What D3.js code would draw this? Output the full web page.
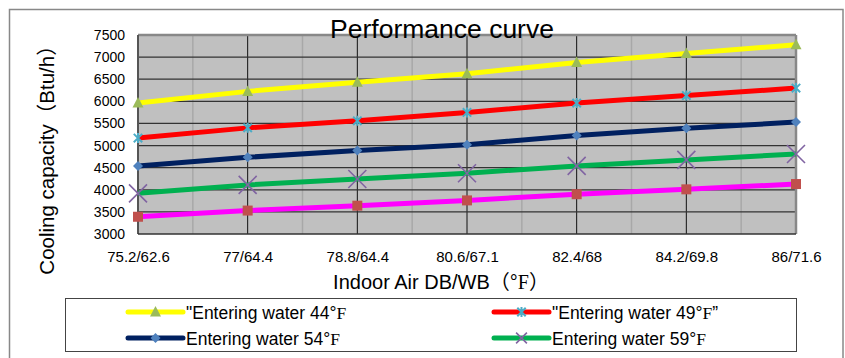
<!DOCTYPE html>
<html>
<head>
<meta charset="utf-8">
<script src="https://cdn.jsdelivr.net/npm/d3@7"></script>
<style>
  html, body { margin: 0; padding: 0; background: #fff; }
  svg { display: block; }
  text { font-family: "Liberation Sans", Arial, sans-serif; fill: #000; }
</style>
</head>
<body>
<svg id="chart" width="845" height="358"></svg>
<script>
// Indoor air conditions (dry bulb / wet bulb, °F)
const categories = ["75.2/62.6", "77/64.4", "78.8/64.4", "80.6/67.1", "82.4/68", "84.2/69.8", "86/71.6"];

// Cooling capacity (Btu/h) for each entering water temperature
const water44 = [5960, 6225, 6430, 6625, 6880, 7080, 7280];
const water49 = [5170, 5400, 5560, 5750, 5960, 6130, 6300];
const water54 = [4540, 4735, 4890, 5020, 5230, 5390, 5530];
const water59 = [3920, 4110, 4245, 4375, 4540, 4675, 4810];
const water64 = [3390, 3530, 3640, 3760, 3900, 4010, 4130];

const yTicks = [3000, 3500, 4000, 4500, 5000, 5500, 6000, 6500, 7000, 7500];

const seriesNames = ["\"Entering water 44", "\"Entering water 49", "Entering water 54", "Entering water 59", "Entering water 64"];
const seriesSuffix = ["", "\u201D", "", "", ""];

const series = [
  { name: seriesNames[0], suffix: seriesSuffix[0], values: water44, line: "#FFFF00", marker: "triangle", mColor: "#9BBB59", legend: true },
  { name: seriesNames[1], suffix: seriesSuffix[1], values: water49, line: "#FF0000", marker: "star",     mColor: "#4BACC6", legend: true },
  { name: seriesNames[2], suffix: seriesSuffix[2], values: water54, line: "#002060", marker: "diamond",  mColor: "#4F81BD", legend: true },
  { name: seriesNames[3], suffix: seriesSuffix[3], values: water59, line: "#00B050", marker: "x",        mColor: "#8064A2", legend: true },
  { name: seriesNames[4], suffix: seriesSuffix[4], values: water64, line: "#FF00FF", marker: "square",   mColor: "#C0504D", legend: false }
];

const svg = d3.select("#chart");

// outer chart frame
svg.append("rect")
  .attr("x", 9.5).attr("y", 9.5).attr("width", 833.5).attr("height", 360)
  .attr("fill", "#fff").attr("stroke", "#888").attr("stroke-width", 1.5);

const plot = { left: 138, right: 796, top: 35, bottom: 234 };

const x = d3.scalePoint().domain(categories).range([plot.left, plot.right]);
const y = d3.scaleLinear().domain([3000, 7500]).range([plot.bottom, plot.top]);

// plot background
svg.append("rect")
  .attr("x", plot.left).attr("y", plot.top)
  .attr("width", plot.right - plot.left).attr("height", plot.bottom - plot.top)
  .attr("fill", "#C0C0C0");

const step = x.step();

// minor vertical gridlines halfway between categories
svg.append("g").selectAll("line")
  .data(categories.slice(0, -1))
  .join("line")
  .attr("x1", d => x(d) + step / 2).attr("x2", d => x(d) + step / 2)
  .attr("y1", plot.top).attr("y2", plot.bottom)
  .attr("stroke", "#A8A8A8").attr("stroke-width", 1.5);

// major vertical gridlines at categories
svg.append("g").selectAll("line")
  .data(categories.slice(1, -1))
  .join("line")
  .attr("x1", d => x(d)).attr("x2", d => x(d))
  .attr("y1", plot.top).attr("y2", plot.bottom)
  .attr("stroke", "#111").attr("stroke-width", 1);

// horizontal gridlines
svg.append("g").selectAll("line")
  .data(yTicks.slice(1, -1))
  .join("line")
  .attr("x1", plot.left).attr("x2", plot.right)
  .attr("y1", d => y(d)).attr("y2", d => y(d))
  .attr("stroke", "#333").attr("stroke-width", 1.3);

// plot border: grey on top/right, dark on the axes
svg.append("line").attr("x1", plot.left).attr("x2", plot.right)
  .attr("y1", plot.top).attr("y2", plot.top).attr("stroke", "#888").attr("stroke-width", 2.5);
svg.append("line").attr("x1", plot.right).attr("x2", plot.right)
  .attr("y1", plot.top).attr("y2", plot.bottom).attr("stroke", "#888").attr("stroke-width", 2.5);
svg.append("line").attr("x1", plot.left).attr("x2", plot.left)
  .attr("y1", plot.top).attr("y2", plot.bottom).attr("stroke", "#555").attr("stroke-width", 2);
svg.append("line").attr("x1", plot.left).attr("x2", plot.right)
  .attr("y1", plot.bottom).attr("y2", plot.bottom).attr("stroke", "#333").attr("stroke-width", 1.5);

// axes (labels only; lines drawn above)
const yAxis = d3.axisLeft(y).tickValues(yTicks).tickSize(0).tickPadding(13).tickFormat(d3.format("d"));
const gy = svg.append("g").attr("transform", `translate(${plot.left},0)`).call(yAxis);
gy.select(".domain").remove();
gy.selectAll("text").style("font-size", "14px").style("font-family", "'Liberation Sans', Arial, sans-serif");

const xAxis = d3.axisBottom(x).tickSize(0).tickPadding(17);
const gx = svg.append("g").attr("transform", `translate(0,${plot.bottom})`).call(xAxis);
gx.select(".domain").remove();
gx.selectAll("text").style("font-size", "15px").style("font-family", "'Liberation Sans', Arial, sans-serif");

// marker shapes
function drawMarker(g, type, color, cx, cy, scale) {
  const s = scale || 1;
  if (type === "triangle") {
    g.append("path")
      .attr("d", `M${cx},${cy - 6 * s}L${cx + 5.5 * s},${cy + 4.5 * s}L${cx - 5.5 * s},${cy + 4.5 * s}Z`)
      .attr("fill", color);
  } else if (type === "star") {
    const r = 4.2 * s;
    g.append("path")
      .attr("d", `M${cx - r},${cy - r}L${cx + r},${cy + r}M${cx - r},${cy + r}L${cx + r},${cy - r}M${cx},${cy - r - 0.8}L${cx},${cy + r + 0.8}`)
      .attr("stroke", color).attr("stroke-width", 2).attr("fill", "none");
  } else if (type === "diamond") {
    const r = 5 * s;
    g.append("path")
      .attr("d", `M${cx},${cy - r}L${cx + r},${cy}L${cx},${cy + r}L${cx - r},${cy}Z`)
      .attr("fill", color);
  } else if (type === "x") {
    const r = 9 * s;
    g.append("path")
      .attr("d", `M${cx - r},${cy - r}L${cx + r},${cy + r}M${cx - r},${cy + r}L${cx + r},${cy - r}`)
      .attr("stroke", color).attr("stroke-width", 1.6).attr("fill", "none");
  } else if (type === "square") {
    const r = 5 * s;
    g.append("rect")
      .attr("x", cx - r).attr("y", cy - r).attr("width", 2 * r).attr("height", 2 * r)
      .attr("fill", color);
  }
}

const line = d3.line().x((d, i) => x(categories[i])).y(d => y(d));

series.forEach(s => {
  svg.append("path")
    .datum(s.values)
    .attr("d", line)
    .attr("fill", "none")
    .attr("stroke", s.line)
    .attr("stroke-width", 5)
    .attr("stroke-linejoin", "round");
});
series.forEach(s => {
  const g = svg.append("g");
  s.values.forEach((v, i) => drawMarker(g, s.marker, s.mColor, x(categories[i]), y(v), 1));
});

// title
svg.append("text")
  .attr("x", 442).attr("y", 38)
  .attr("text-anchor", "middle")
  .style("font-size", "26.5px")
  .text("Performance curve");

// axis titles
function degF(sel) {
  sel.append("tspan").text("°");
  sel.append("tspan").style("font-family", "'Liberation Serif', 'Times New Roman', serif").text("F");
}

const yTitle = svg.append("text")
  .attr("transform", "translate(54,155) rotate(-90)")
  .attr("text-anchor", "middle")
  .style("font-size", "20.5px");
yTitle.append("tspan").text("Cooling capacity");
yTitle.append("tspan").style("font-family", "'Noto Sans CJK SC', sans-serif").text("（");
yTitle.append("tspan").text("Btu/h");
yTitle.append("tspan").style("font-family", "'Noto Sans CJK SC', sans-serif").text("）");

const xTitle = svg.append("text")
  .attr("x", 441).attr("y", 289)
  .attr("text-anchor", "middle")
  .style("font-size", "20px");
xTitle.append("tspan").text("Indoor Air DB/WB");
xTitle.append("tspan").style("font-family", "'Noto Sans CJK SC', sans-serif").text("（");
degF(xTitle);
xTitle.append("tspan").style("font-family", "'Noto Sans CJK SC', sans-serif").text("）");

// legend
svg.append("rect")
  .attr("x", 65.5).attr("y", 298.5).attr("width", 731).attr("height", 53)
  .attr("fill", "#fff").attr("stroke", "#444").attr("stroke-width", 1);

const legendItems = series.filter(s => s.legend);
const colX = [128, 494];
const rowY = [312, 338];
legendItems.forEach((s, i) => {
  const lx = colX[i % 2], ly = rowY[Math.floor(i / 2)];
  const g = svg.append("g");
  g.append("line")
    .attr("x1", lx).attr("x2", lx + 55).attr("y1", ly).attr("y2", ly)
    .attr("stroke", s.line).attr("stroke-width", 5).attr("stroke-linecap", "round");
  drawMarker(g, s.marker, s.mColor, lx + 27.5, ly, s.marker === "x" ? 0.6 : 1);
  const t = g.append("text")
    .attr("x", lx + 58).attr("y", ly + 6.5)
    .style("font-size", "17.5px");
  t.append("tspan").text(s.name);
  degF(t);
  if (s.suffix) t.append("tspan").text(s.suffix);
});
</script>
</body>
</html>
